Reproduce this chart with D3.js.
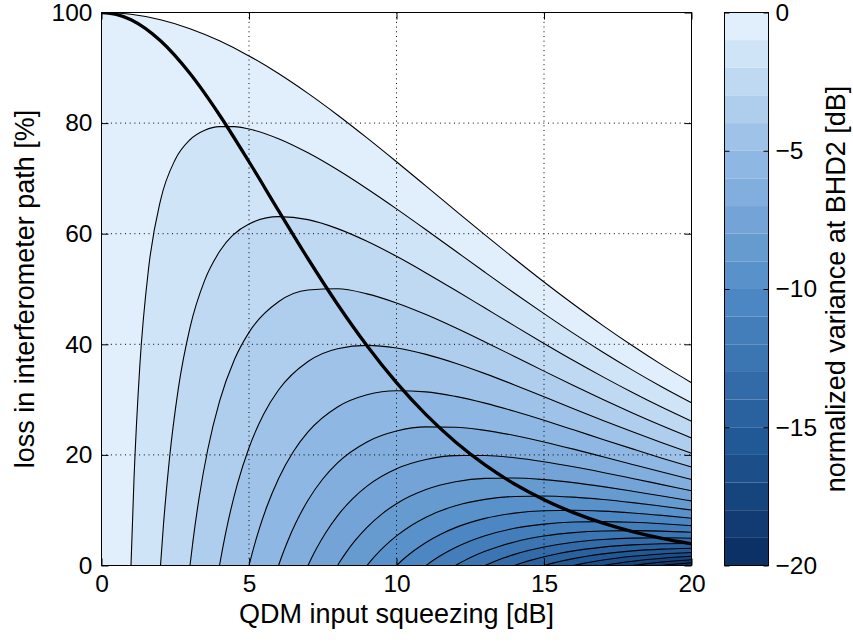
<!DOCTYPE html>
<html>
<head>
<meta charset="utf-8">
<script src="https://cdn.jsdelivr.net/npm/d3@7"></script>
<style>
  body { margin: 0; background: #fff; }
  svg { display: block; font-family: "Liberation Sans", Arial, sans-serif; }
</style>
</head>
<body>
<svg id="chart"></svg>
<script>
// contour levels of the normalized variance [dB], one band per dB
const levels = [0, -1, -2, -3, -4, -5, -6, -7, -8, -9, -10, -11, -12, -13, -14, -15, -16, -17, -18, -19];
const xTicks = [0, 5, 10, 15, 20];
const yTicks = [0, 20, 40, 60, 80, 100];
const barTicks = [0, -5, -10, -15, -20];

// iso-lines: [QDM input squeezing dB, loss %]
const lv0 = [[0,100],[0.5,99.92],[1,99.67],[2,98.69],[3,97.08],[4,94.88],[5,92.15],[6,88.96],[7,85.37],[8,81.47],[9,77.32],[10,73.01],[11,68.61],[12,64.18],[13,59.78],[14,55.47],[15,51.27],[16,47.24],[17,43.38],[18,39.73],[19,36.28],[20,33.06]];
const lv1 = [[1,0],[1.1,15.42],[1.3,36.22],[1.6,53.91],[2,66.04],[2.5,73.42],[3,76.99],[3.5,78.70],[4,79.36],[4.5,79.37],[5,78.93],[6,77.17],[7,74.62],[8,71.55],[9,68.13],[10,64.49],[11,60.71],[12,56.86],[13,53.02],[14,49.23],[15,45.54],[16,41.97],[17,38.57],[18,35.33],[19,32.28],[20,29.42]];
const lv2 = [[2,0],[2.1,7.31],[2.3,19.12],[2.6,31.86],[3,43.03],[3.5,51.61],[4,56.77],[5,61.76],[6,63.08],[7,62.54],[8,60.92],[9,58.63],[10,55.91],[11,52.91],[12,49.77],[13,46.55],[14,43.33],[15,40.16],[16,37.07],[17,34.11],[18,31.28],[19,28.60],[20,26.09]];
const lv3 = [[3,0],[3.1,4.40],[3.3,11.97],[3.6,20.93],[4,29.68],[4.5,37.17],[5,42.16],[6,47.69],[7,49.81],[8,50.04],[9,49.12],[10,47.48],[11,45.38],[12,42.99],[13,40.43],[14,37.80],[15,35.15],[16,32.54],[17,30.00],[18,27.57],[19,25.25],[20,23.06]];
const lv4 = [[4,0],[4.1,2.93],[4.3,8.14],[4.6,14.61],[5,21.30],[5.5,27.40],[6,31.73],[7,36.90],[8,39.21],[9,39.81],[10,39.34],[11,38.18],[12,36.58],[13,34.70],[14,32.65],[15,30.51],[16,28.36],[17,26.24],[18,24.17],[19,22.19],[20,20.30]];
const lv5 = [[5,0],[5.1,2.06],[5.3,5.80],[5.6,10.58],[6,15.70],[6.5,20.57],[7,24.15],[8,28.66],[9,30.86],[10,31.60],[11,31.40],[12,30.58],[13,29.36],[14,27.88],[15,26.25],[16,24.54],[17,22.80],[18,21.09],[19,19.41],[20,17.81]];
const lv6 = [[6,0],[6.1,1.50],[6.3,4.26],[6.6,7.85],[7,11.80],[7.5,15.64],[8,18.56],[9,22.35],[10,24.31],[11,25.06],[12,25.01],[13,24.44],[14,23.50],[15,22.34],[16,21.04],[17,19.67],[18,18.28],[19,16.90],[20,15.55]];
const lv7 = [[7,0],[7.1,1.12],[7.3,3.19],[7.6,5.93],[8,8.98],[8.5,12.02],[9,14.36],[10,17.50],[11,19.17],[12,19.87],[13,19.90],[14,19.49],[15,18.77],[16,17.86],[17,16.83],[18,15.74],[19,14.63],[20,13.52]];
const lv8 = [[8,0],[8.1,0.85],[8.3,2.43],[8.6,4.53],[9,6.91],[9.5,9.30],[10,11.18],[11,13.73],[12,15.14],[13,15.75],[14,15.83],[15,15.53],[16,14.98],[17,14.26],[18,13.44],[19,12.57],[20,11.68]];
const lv9 = [[9,0],[9.1,0.65],[9.3,1.86],[9.6,3.49],[10,5.35],[10.5,7.24],[11,8.74],[12,10.81],[13,11.96],[14,12.49],[15,12.58],[16,12.36],[17,11.93],[18,11.37],[19,10.72],[20,10.03]];
const lv10 = [[10,0],[10.1,0.50],[10.3,1.44],[10.6,2.71],[11,4.17],[11.5,5.66],[12,6.85],[13,8.52],[14,9.47],[15,9.91],[16,10.00],[17,9.83],[18,9.50],[19,9.06],[20,8.55]];
const lv11 = [[11,0],[11.1,0.39],[11.3,1.12],[11.6,2.11],[12,3.26],[12.5,4.44],[13,5.39],[14,6.73],[15,7.49],[16,7.86],[17,7.94],[18,7.82],[19,7.56],[20,7.21]];
const lv12 = [[12,0],[12.1,0.30],[12.3,0.88],[12.6,1.66],[13,2.56],[13.5,3.49],[14,4.25],[15,5.32],[16,5.94],[17,6.24],[18,6.31],[19,6.22],[20,6.02]];
const lv13 = [[13,0],[13.1,0.24],[13.3,0.69],[13.6,1.30],[14,2.01],[14.5,2.75],[15,3.35],[16,4.21],[17,4.71],[18,4.95],[19,5.01],[20,4.94]];
const lv14 = [[14,0],[14.1,0.19],[14.3,0.54],[14.6,1.02],[15,1.59],[15.5,2.17],[16,2.65],[17,3.33],[18,3.73],[19,3.93],[20,3.98]];
const lv15 = [[15,0],[15.1,0.15],[15.3,0.43],[15.6,0.81],[16,1.25],[16.5,1.72],[17,2.10],[18,2.64],[19,2.96],[20,3.12]];
const lv16 = [[16,0],[16.1,0.12],[16.3,0.34],[16.6,0.64],[17,0.99],[17.5,1.36],[18,1.66],[19,2.09],[20,2.35]];
const lv17 = [[17,0],[17.1,0.09],[17.3,0.27],[17.6,0.51],[18,0.78],[18.5,1.08],[19,1.32],[20,1.66]];
const lv18 = [[18,0],[18.1,0.07],[18.3,0.21],[18.6,0.40],[19,0.62],[19.5,0.85],[20,1.04]];
const lv19 = [[19,0],[19.1,0.06],[19.3,0.17],[19.6,0.32],[20,0.49]];
const contours = [lv0, lv1, lv2, lv3, lv4, lv5, lv6, lv7, lv8, lv9, lv10, lv11, lv12, lv13, lv14, lv15, lv16, lv17, lv18, lv19];

// optimum squeezing for a given loss (thick line)
const optimum = [[0,100],[0.5,99.67],[1,98.69],[2,94.88],[3,88.96],[4,81.47],[5,73.01],[6,64.18],[7,55.47],[8,47.24],[9,39.73],[10,33.06],[11,27.27],[12,22.33],[13,18.18],[14,14.73],[15,11.89],[16,9.56],[17,7.67],[18,6.14],[19,4.91],[20,3.92]];

let svgWidth = 853,
    svgHeight = 644,
    plotLeft = 101.5,
    plotRight = 691.5,
    plotTop = 12.5,
    plotBottom = 565.5,
    barLeft = 724.5,
    barRight = 768.5,
    tickLen = 7,
    tickFont = 24.5,
    labelFont = 27;

let svg = d3.select('#chart')
    .attr('width', svgWidth)
    .attr('height', svgHeight);

let x = d3.scaleLinear().domain([0, 20]).range([plotLeft, plotRight]);
let y = d3.scaleLinear().domain([0, 100]).range([plotBottom, plotTop]);
let cy = d3.scaleLinear().domain([0, -20]).range([plotTop, plotBottom]);

let bandColor = d3.scaleLinear()
    .domain([0, 5, 10, 15, 19])
    .range(['#e1effc', '#8eb8e3', '#4c87c4', '#215996', '#0b3166']);

svg.append('clipPath').attr('id', 'clip')
  .append('rect')
    .attr('x', plotLeft).attr('y', plotTop)
    .attr('width', plotRight - plotLeft).attr('height', plotBottom - plotTop);

let area = d3.area()
    .x(d => x(d[0]))
    .y0(y(0))
    .y1(d => y(d[1]))
    .curve(d3.curveMonotoneX);

let line = d3.line()
    .x(d => x(d[0]))
    .y(d => y(d[1]))
    .curve(d3.curveMonotoneX);

let plot = svg.append('g').attr('clip-path', 'url(#clip)');

plot.selectAll('.band')
    .data(contours)
    .enter()
    .append('path')
    .attr('class', 'band')
    .attr('d', area)
    .attr('fill', (d, i) => bandColor(-levels[i]));

plot.selectAll('.iso')
    .data(contours)
    .enter()
    .append('path')
    .attr('class', 'iso')
    .attr('d', line)
    .attr('fill', 'none')
    .attr('stroke', '#000')
    .attr('stroke-width', 1.1);

plot.append('path')
    .datum(optimum)
    .attr('d', line)
    .attr('fill', 'none')
    .attr('stroke', '#000')
    .attr('stroke-width', 3.3);

// dotted grid
let grid = svg.append('g')
    .attr('stroke', '#000')
    .attr('stroke-width', 1)
    .attr('stroke-dasharray', '1,3.7');

grid.selectAll('.gx')
    .data(xTicks.slice(1, -1))
    .enter()
    .append('line')
    .attr('x1', d => x(d)).attr('x2', d => x(d))
    .attr('y1', plotTop).attr('y2', plotBottom);

grid.selectAll('.gy')
    .data(yTicks.slice(1, -1))
    .enter()
    .append('line')
    .attr('x1', plotLeft).attr('x2', plotRight)
    .attr('y1', d => y(d)).attr('y2', d => y(d));

// axes, ticks pointing inwards
function styleAxis(sel) {
    sel.select('.domain').remove();
    sel.selectAll('text')
        .attr('font-size', tickFont)
        .attr('font-family', '"Liberation Sans", Arial, sans-serif')
        .attr('fill', '#000');
    sel.selectAll('line').attr('stroke', '#000');
}

svg.append('g')
    .attr('transform', `translate(0,${plotBottom})`)
    .call(d3.axisBottom(x).tickValues(xTicks).tickSizeInner(-tickLen).tickSizeOuter(0).tickPadding(9))
    .call(styleAxis);

svg.append('g')
    .attr('transform', `translate(0,${plotTop})`)
    .call(d3.axisTop(x).tickValues(xTicks).tickSize(-tickLen).tickFormat(''))
    .call(styleAxis);

svg.append('g')
    .attr('transform', `translate(${plotLeft},0)`)
    .call(d3.axisLeft(y).tickValues(yTicks).tickSizeInner(-tickLen).tickSizeOuter(0).tickPadding(9))
    .call(styleAxis);

svg.append('g')
    .attr('transform', `translate(${plotRight},0)`)
    .call(d3.axisRight(y).tickValues(yTicks).tickSize(-tickLen).tickFormat(''))
    .call(styleAxis);

svg.append('rect')
    .attr('x', plotLeft).attr('y', plotTop)
    .attr('width', plotRight - plotLeft).attr('height', plotBottom - plotTop)
    .attr('fill', 'none')
    .attr('stroke', '#000');

// colorbar
svg.selectAll('.cb')
    .data(levels)
    .enter()
    .append('rect')
    .attr('x', barLeft)
    .attr('y', d => cy(d))
    .attr('width', barRight - barLeft)
    .attr('height', d => cy(d - 1) - cy(d))
    .attr('fill', d => bandColor(-d));

svg.append('g')
    .attr('transform', `translate(${barLeft},0)`)
    .call(d3.axisLeft(cy).tickValues(barTicks).tickSize(-5).tickFormat(''))
    .call(styleAxis);

svg.append('g')
    .attr('transform', `translate(${barRight},0)`)
    .call(d3.axisRight(cy).tickValues(barTicks).tickSizeInner(-5).tickSizeOuter(0).tickPadding(7))
    .call(styleAxis);

svg.append('rect')
    .attr('x', barLeft).attr('y', plotTop)
    .attr('width', barRight - barLeft).attr('height', plotBottom - plotTop)
    .attr('fill', 'none')
    .attr('stroke', '#000');

// axis titles
svg.append('text')
    .attr('x', (plotLeft + plotRight) / 2)
    .attr('y', 623)
    .attr('text-anchor', 'middle')
    .attr('font-size', labelFont)
    .text('QDM input squeezing [dB]');

svg.append('text')
    .attr('transform', `translate(34,${(plotTop + plotBottom) / 2}) rotate(-90)`)
    .attr('text-anchor', 'middle')
    .attr('font-size', labelFont)
    .text('loss in interferometer path [%]');

svg.append('text')
    .attr('transform', `translate(845,${(plotTop + plotBottom) / 2}) rotate(-90)`)
    .attr('text-anchor', 'middle')
    .attr('font-size', labelFont)
    .text('normalized variance at BHD2 [dB]');
</script>
</body>
</html>
